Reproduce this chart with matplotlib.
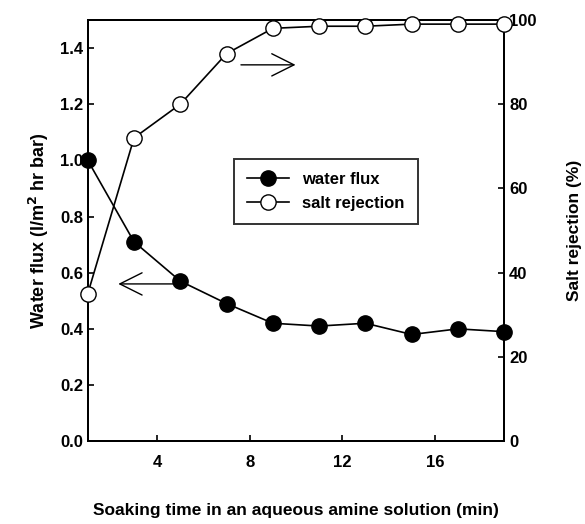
import numpy as np
import matplotlib.pyplot as plt

plt.rcParams['font.family'] = ['Liberation Sans', 'DejaVu Sans']
plt.rcParams['font.weight'] = 'bold'
plt.rcParams['axes.labelweight'] = 'bold'

time = [1, 3, 5, 7, 9, 11, 13, 15, 17, 19]
water_flux = [1.00, 0.71, 0.57, 0.49, 0.42, 0.41, 0.42, 0.38, 0.40, 0.39]
salt_rejection = [35, 72, 80, 92, 98, 98.5, 98.5, 99, 99, 99]

fig = plt.figure(figsize=(5.85, 5.24), dpi=100)
ax = fig.add_axes([0.150, 0.158, 0.712, 0.804])
ax2 = ax.twinx()

l1, = ax.plot(time, water_flux, '-o', color='black', mfc='black', ms=11, lw=1.2,
              label='water flux', clip_on=False, zorder=3)
l2, = ax2.plot(time, salt_rejection, '-o', color='black', mfc='white', ms=11, lw=1.2,
               label='salt rejection', clip_on=False, zorder=3)

ax.set_xlim(1, 19)
ax.set_ylim(0, 1.5)
ax2.set_ylim(0, 100)
ax.set_xticks([4, 8, 12, 16])
ax.set_yticks(np.arange(0, 1.41, 0.2))
ax.set_yticklabels([f'{v:.1f}' for v in np.arange(0, 1.41, 0.2)])
ax2.set_yticks([0, 20, 40, 60, 80, 100])

for a in (ax, ax2):
    a.tick_params(direction='in', labelsize=12, width=1.2, length=4)
    for s in a.spines.values():
        s.set_linewidth(1.4)
ax.tick_params(axis='x', pad=10)

ax.set_xlabel('Soaking time in an aqueous amine solution (min)', fontsize=12.5,
              fontweight='bold', labelpad=24)
ax.set_ylabel('Water flux (l/m$^2$ hr bar)', fontsize=13, fontweight='bold', labelpad=6)
ax2.set_ylabel('Salt rejection (%)', fontsize=12.5, fontweight='bold', labelpad=22)

ax.annotate('', xy=(2.2, 0.56), xytext=(5.0, 0.56),
            arrowprops=dict(arrowstyle='->', color='black', lw=1.0, mutation_scale=40))
ax.annotate('', xy=(10.1, 1.34), xytext=(7.5, 1.34),
            arrowprops=dict(arrowstyle='->', color='black', lw=1.0, mutation_scale=40))

leg = ax.legend(handles=[l1, l2], loc='upper left', bbox_to_anchor=(0.33, 0.69),
                fontsize=12, frameon=True, fancybox=False, edgecolor='black',
                handlelength=2.5, borderpad=0.8)
leg.get_frame().set_linewidth(1.4)

fig.savefig('out.png', dpi=100)
